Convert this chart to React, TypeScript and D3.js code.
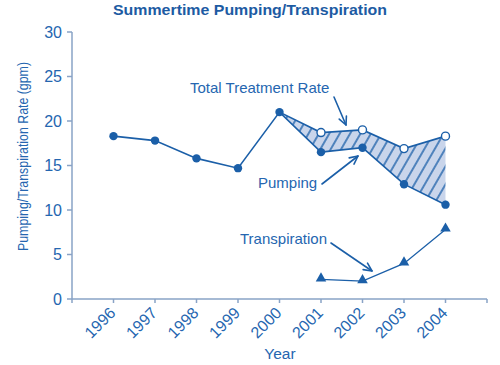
import React from "react";
import * as d3 from "d3";

const years = [1996, 1997, 1998, 1999, 2000, 2001, 2002, 2003, 2004];
const pumping = [18.3, 17.8, 15.8, 14.7, 21.0, 16.5, 17.0, 12.9, 10.6];
const totalYears = [2000, 2001, 2002, 2003, 2004];
const totalRate = [21.0, 18.7, 19.0, 16.9, 18.3];
const transYears = [2001, 2002, 2003, 2004];
const transpiration = [2.2, 2.0, 4.0, 7.8];
const yTicks = [0, 5, 10, 15, 20, 25, 30];
const xTickYears = [1995, 1996, 1997, 1998, 1999, 2000, 2001, 2002, 2003, 2004, 2005];

const W = 500;
const H = 365;
const left = 72;
const right = 487;
const top = 32;
const bottom = 299;

const DARK = "#1b5fa8";
const TEXT = "#2566b0";
const AXIS = "#89a3c6";
const FILL = "#c9d5eb";
const FONT = "'Liberation Sans', Arial, sans-serif";

export default function App() {
  const x = d3.scaleLinear().domain([1995, 2005]).range([left, right]);
  const y = d3.scaleLinear().domain([0, 30]).range([bottom, top]);

  const pumpPts: [number, number][] = years.map((yr, i) => [x(yr), y(pumping[i])]);
  const totalPts: [number, number][] = totalYears.map((yr, i) => [x(yr), y(totalRate[i])]);
  const transPts: [number, number][] = transYears.map((yr, i) => [x(yr), y(transpiration[i])]);

  const line = d3.line<[number, number]>();
  const bottomPts = totalYears.map((yr) => [x(yr), y(pumping[years.indexOf(yr)])] as [number, number]);
  const polyPts = [...totalPts, ...bottomPts.slice().reverse()];
  const polyPath = line(polyPts) + "Z";

  const tri = d3.symbol().type(d3.symbolTriangle).size(48)();

  const arrow = (x1: number, y1: number, x2: number, y2: number, key: string) => {
    const ang = Math.atan2(y2 - y1, x2 - x1);
    const len = 9;
    const spread = 0.45;
    const a1x = x2 - len * Math.cos(ang - spread);
    const a1y = y2 - len * Math.sin(ang - spread);
    const a2x = x2 - len * Math.cos(ang + spread);
    const a2y = y2 - len * Math.sin(ang + spread);
    return (
      <g key={key} stroke={DARK} strokeWidth={1.6} fill="none" strokeLinecap="round" strokeLinejoin="round">
        <line x1={x1} y1={y1} x2={x2} y2={y2} />
        <polyline points={`${a1x},${a1y} ${x2},${y2} ${a2x},${a2y}`} />
      </g>
    );
  };

  return (
    <svg width={W} height={H} style={{ position: "absolute", left: 0, top: 0, background: "#fff" }} fontFamily={FONT}>
      <defs>
        <pattern id="hatch" patternUnits="userSpaceOnUse" width={9} height={9} patternTransform="rotate(30)">
          <rect width={9} height={9} fill={FILL} />
          <line x1={1} y1={0} x2={1} y2={9} stroke={DARK} strokeWidth={1.4} />
        </pattern>
      </defs>

      <text x={250} y={15} textAnchor="middle" fontWeight="bold" fontSize={15} fill="#1d5ba3" textLength={274} lengthAdjust="spacingAndGlyphs">
        Summertime Pumping/Transpiration
      </text>

      {/* Axes */}
      <line x1={left} y1={top} x2={left} y2={bottom} stroke={AXIS} strokeWidth={1.5} />
      <line x1={left} y1={bottom} x2={right} y2={bottom} stroke={AXIS} strokeWidth={1.5} />
      {yTicks.map((t) => (
        <g key={"y" + t}>
          <line x1={left - 5} y1={y(t)} x2={left} y2={y(t)} stroke={AXIS} strokeWidth={1.5} />
          <text x={62} y={y(t) + 5.5} textAnchor="end" fontSize={16} fill={TEXT}>
            {t}
          </text>
        </g>
      ))}
      {xTickYears.map((yr) => (
        <line key={"xt" + yr} x1={x(yr)} y1={bottom} x2={x(yr)} y2={bottom + 4} stroke={AXIS} strokeWidth={1.5} />
      ))}
      {years.map((yr) => (
        <text
          key={"xl" + yr}
          transform={`translate(${x(yr) + 3},${bottom + 15}) rotate(-45)`}
          textAnchor="end"
          fontSize={16}
          fill={TEXT}
        >
          {yr}
        </text>
      ))}

      <text
        transform={`translate(28,${(62 + 251) / 2}) rotate(-90)`}
        textAnchor="middle"
        fontSize={15}
        fill={TEXT}
        textLength={189}
        lengthAdjust="spacingAndGlyphs"
      >
        Pumping/Transpiration Rate (gpm)
      </text>
      <text x={280} y={359} textAnchor="middle" fontSize={15.5} fill={TEXT}>
        Year
      </text>

      {/* Hatched area */}
      <path d={polyPath} fill="url(#hatch)" stroke="none" />

      {/* Lines */}
      <path d={line(totalPts) || ""} fill="none" stroke={DARK} strokeWidth={1.6} />
      <path d={line(pumpPts) || ""} fill="none" stroke={DARK} strokeWidth={1.6} />
      <path d={line(transPts) || ""} fill="none" stroke={DARK} strokeWidth={1.3} />

      {pumpPts.map(([px, py], i) => (
        <circle key={"p" + i} cx={px} cy={py} r={4.2} fill={DARK} />
      ))}
      {totalPts.slice(1).map(([px, py], i) => (
        <circle key={"t" + i} cx={px} cy={py} r={4} fill="#fff" stroke={DARK} strokeWidth={1.4} />
      ))}
      {transPts.map(([px, py], i) => (
        <path key={"tr" + i} d={tri || ""} transform={`translate(${px},${py - 1})`} fill={DARK} />
      ))}

      {/* Annotations */}
      <text x={190} y={93} fontSize={15} fill={TEXT}>
        Total Treatment Rate
      </text>
      {arrow(334, 97, 346, 125, "a1")}
      <text x={258} y={188} fontSize={15} fill={TEXT}>
        Pumping
      </text>
      {arrow(322, 184, 358, 156, "a2")}
      <text x={240} y={244} fontSize={15} fill={TEXT}>
        Transpiration
      </text>
      {arrow(331, 243, 372, 271, "a3")}
    </svg>
  );
}
